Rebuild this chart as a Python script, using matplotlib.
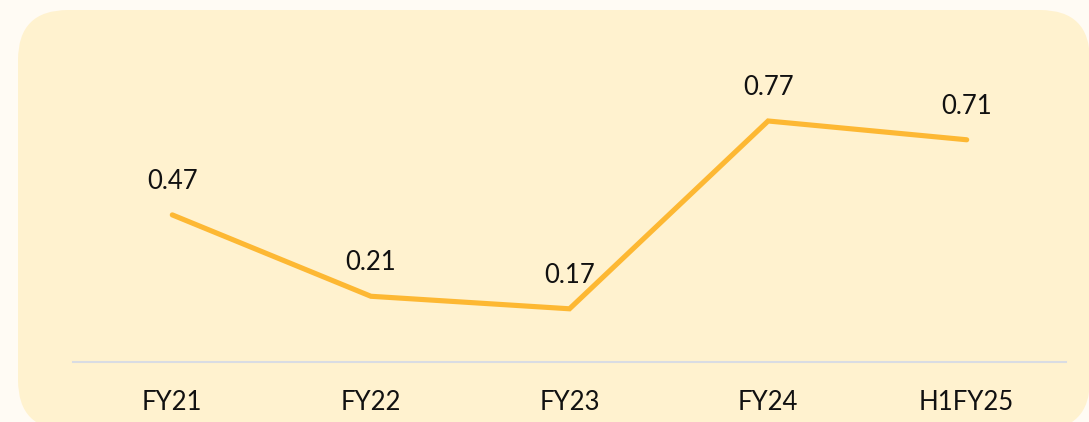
import matplotlib.pyplot as plt
from matplotlib.patches import FancyBboxPatch

categories = ["FY21", "FY22", "FY23", "FY24", "H1FY25"]
values = [0.47, 0.21, 0.17, 0.77, 0.71]

W, H, DPI = 1089, 422, 100
LINE_COLOR = "#FDB833"

plt.rcParams["font.family"] = ["Lato", "DejaVu Sans"]

fig = plt.figure(figsize=(W / DPI, H / DPI), dpi=DPI)
fig.patch.set_facecolor("#FFFBF4")

# rounded panel behind the chart (inches)
panel = FancyBboxPatch(
    (18 / DPI, -8 / DPI), 1072 / DPI, 420 / DPI,
    boxstyle="round,pad=0,rounding_size=0.5",
    transform=fig.dpi_scale_trans,
    facecolor="#FFF2CF", edgecolor="none", zorder=-5,
)
fig.patches.append(panel)

# axes: x 73..1066 px, y=0 at 362 px from top
ax = fig.add_axes([73 / W, (H - 362) / H, (1066 - 73) / W, 332 / H])
ax.set_zorder(2)
ax.set_facecolor("none")
x = list(range(len(categories)))
ax.plot(x, values, color=LINE_COLOR, lw=3.7, solid_capstyle="round", solid_joinstyle="miter")
for xi, v in zip(x, values):
    ax.annotate(f"{v:.2f}", (xi, v), xytext=(0, 24), textcoords="offset points",
                ha="center", va="center", fontsize=18.5, color="#111111")

ax.set_xlim(-0.5, len(categories) - 0.5)
ax.set_ylim(0, 332 / 313)
ax.set_xticks(x)
ax.set_xticklabels(categories, fontsize=18.5, color="#111111")
ax.tick_params(axis="x", length=0, pad=20)
ax.set_yticks([])
for side in ["top", "right", "left"]:
    ax.spines[side].set_visible(False)
ax.spines["bottom"].set_color("#D9DCE3")
ax.spines["bottom"].set_linewidth(1.5)

fig.savefig("out.png", dpi=DPI, facecolor=fig.get_facecolor())
